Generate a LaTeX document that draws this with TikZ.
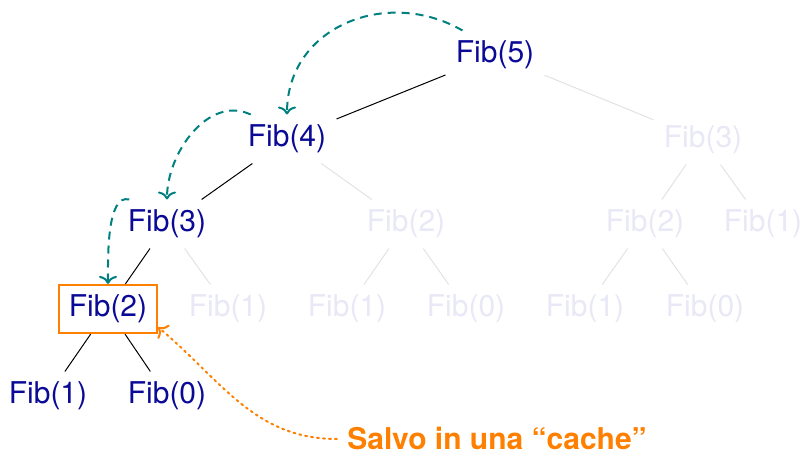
\documentclass[tikz,border=0pt]{standalone}
\usepackage{fontspec}
\setmainfont{TeX Gyre Heros}
\usepackage{tikz}
\usetikzlibrary{positioning, arrows.meta}
\definecolor{fibblue}{RGB}{10,10,150}
\definecolor{fibfade}{RGB}{232,232,246}
\definecolor{edgefade}{RGB}{226,226,230}
\definecolor{memoteal}{RGB}{0,128,128}
\definecolor{cacheorange}{RGB}{255,128,0}

\begin{document}
\begin{tikzpicture}[x=0.5pt, y=0.5pt,
		fib/.style={
			text=fibblue,
			inner sep=5pt,
			font=\fontsize{15}{18}\selectfont
		},
		ghost/.style={fib, text=fibfade},
		cached/.style={fib, draw=cacheorange, line width=1pt},
		live/.style={black, line width=0.5pt},
		faded/.style={edgefade, line width=0.5pt},
		memo/.style={-{Computer Modern Rightarrow[length=4pt, width=9pt]}, memoteal, line width=1pt, dash pattern=on 4pt off 3pt},
		note/.style={-{Computer Modern Rightarrow[length=4pt, width=9pt]}, cacheorange, line width=1pt, dotted, line cap=round}]
		\useasboundingbox (0,0) rectangle (803,454);
		
		% calls that are really made
		\node[fib] (fibfive) at (495,399) {Fib(5)};
		\node[fib] (fibfour) at (287,315) {Fib(4)};
		\node[fib] (fibthree) at (167,230) {Fib(3)};
		\node[cached] (fibtwo) at (108,145) {Fib(2)};
		\node[fib] (fibone) at (48,58) {Fib(1)};
		\node[fib] (fibzero) at (167,58) {Fib(0)};
		
		% calls answered from the cache
		\node[ghost] (ghostonea) at (228,145) {Fib(1)};
		\node[ghost] (ghosttwoa) at (406,230) {Fib(2)};
		\node[ghost] (ghostoneb) at (347,145) {Fib(1)};
		\node[ghost] (ghostzerob) at (466,145) {Fib(0)};
		\node[ghost] (ghostthree) at (703,314) {Fib(3)};
		\node[ghost] (ghosttwoc) at (645,230) {Fib(2)};
		\node[ghost] (ghostonec) at (763,230) {Fib(1)};
		\node[ghost] (ghostoned) at (585,145) {Fib(1)};
		\node[ghost] (ghostzerod) at (705,145) {Fib(0)};
		
		\node[text=cacheorange, inner xsep=5pt, inner ysep=1pt, font=\fontsize{15}{18}\selectfont\bfseries] (note) at (497,15) {Salvo in una “cache”};
		
		\draw[live] (fibfive) -- (fibfour);
		\draw[live] (fibfour) -- (fibthree);
		\draw[live] (fibthree) -- (fibtwo);
		\draw[live] (fibtwo) -- (fibone);
		\draw[live] (fibtwo) -- (fibzero);
		
		\draw[faded] (fibthree) -- (ghostonea);
		\draw[faded] (fibfour) -- (ghosttwoa);
		\draw[faded] (ghosttwoa) -- (ghostoneb);
		\draw[faded] (ghosttwoa) -- (ghostzerob);
		\draw[faded] (fibfive) -- (ghostthree);
		\draw[faded] (ghostthree) -- (ghosttwoc);
		\draw[faded] (ghostthree) -- (ghostonec);
		\draw[faded] (ghosttwoc) -- (ghostoned);
		\draw[faded] (ghosttwoc) -- (ghostzerod);
		
		\draw[memo] (fibfive.143) to[out=150, in=90, looseness=1.15] (fibfour.north);
		\draw[memo] (fibfour.146) to[out=155, in=90] (fibthree.north);
		\draw[memo] (fibthree.147) to[out=165, in=90, looseness=0.7] (fibtwo.north);
		
		\draw[note] (note.west) to[out=180, in=-40] (fibtwo.-20);
	\end{tikzpicture}
\end{document}
